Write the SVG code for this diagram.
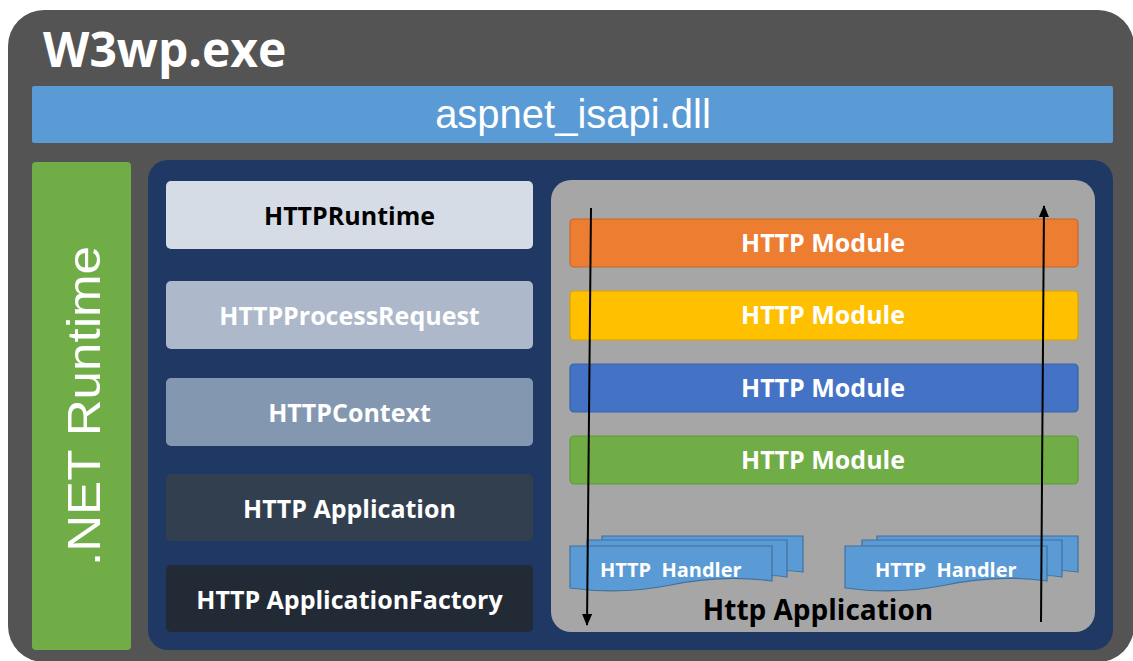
<svg xmlns="http://www.w3.org/2000/svg" width="1133" height="661" viewBox="0 0 1133 661">
  <defs>
    <style>
      .bold { font-family: "Open Sans", "Noto Sans", "Liberation Sans", sans-serif; font-weight: 700; }
      .reg { font-family: "Liberation Sans", "Open Sans", sans-serif; font-weight: 400; }
      .w { fill: #ffffff; }
      .k { fill: #000000; }
      .lbox { stroke: none; }
      .mod { stroke-width: 1.2; }
      .doc { fill: #5b9bd5; stroke: #41719c; stroke-width: 1.2; }
      .conn { stroke: #000000; stroke-width: 2; fill: none; }
    </style>
    <marker id="ah" viewBox="0 0 12 10" refX="11" refY="5" markerWidth="12" markerHeight="10" markerUnits="userSpaceOnUse" orient="auto">
      <path d="M0,0 L12,5 L0,10 Z" fill="#000000"/>
    </marker>
    <g id="handler">
      <path class="doc" d="M602,536 H803 V572 Q780,569 760,572 L760,572 H602 Z"/>
      <path class="doc" d="M587,540 H787 V577 Q770,574 750,577 H587 Z"/>
      <path class="doc" d="M570,546 H772 V581 Q722,574 671,585 Q620,595 570,588 Z"/>
    </g>
  </defs>

  <g id="w3wp">
    <rect x="8" y="10" width="1126" height="652" rx="36" ry="36" fill="#545454"/>
    <text class="bold w" x="43" y="67" font-size="48">W3wp.exe</text>
  </g>

  <g id="aspnet_isapi">
    <rect x="32" y="86" width="1081" height="57" rx="2" fill="#5b9bd5"/>
    <text class="reg w" x="573" y="128" font-size="40" text-anchor="middle">aspnet_isapi.dll</text>
  </g>

  <g id="netruntime">
    <rect x="32" y="162" width="99" height="488" rx="4" fill="#70ad47"/>
    <text class="reg w" transform="translate(100,406) rotate(-90)" x="0" y="0" font-size="47" text-anchor="middle" textLength="320" lengthAdjust="spacingAndGlyphs">.NET Runtime</text>
  </g>

  <g id="runtime-container">
    <rect x="148" y="160" width="965" height="490" rx="20" fill="#203864"/>
  </g>

  <g id="httpruntime">
    <rect class="lbox" x="166" y="181" width="367" height="68" rx="5" fill="#d6dce5"/>
    <text class="bold k" x="349.5" y="225" font-size="25" text-anchor="middle">HTTPRuntime</text>
  </g>
  <g id="httpprocessrequest">
    <rect class="lbox" x="166" y="281" width="367" height="68" rx="5" fill="#adb9ca"/>
    <text class="bold w" x="349.5" y="325" font-size="25" text-anchor="middle">HTTPProcessRequest</text>
  </g>
  <g id="httpcontext">
    <rect class="lbox" x="166" y="378" width="367" height="68" rx="5" fill="#8497b0"/>
    <text class="bold w" x="349.5" y="422" font-size="25" text-anchor="middle">HTTPContext</text>
  </g>
  <g id="httpapplication">
    <rect class="lbox" x="166" y="474" width="367" height="67" rx="5" fill="#323f4f"/>
    <text class="bold w" x="349.5" y="518" font-size="25" text-anchor="middle">HTTP Application</text>
  </g>
  <g id="httpapplicationfactory">
    <rect class="lbox" x="166" y="565" width="367" height="67" rx="5" fill="#222a35"/>
    <text class="bold w" x="349.5" y="609" font-size="25" text-anchor="middle">HTTP ApplicationFactory</text>
  </g>

  <g id="http-application-box">
    <rect x="551" y="180" width="544" height="452" rx="20" fill="#a6a6a6"/>
    <text class="bold k" x="818" y="620" font-size="28" text-anchor="middle">Http Application</text>
  </g>

  <g id="module1">
    <rect class="mod" x="570" y="219" width="508" height="48" rx="4" fill="#ed7d31" stroke="#c4672a"/>
    <text class="bold w" x="823" y="252" font-size="25" text-anchor="middle">HTTP Module</text>
  </g>
  <g id="module2">
    <rect class="mod" x="570" y="291" width="508" height="49" rx="4" fill="#ffc000" stroke="#d6a200"/>
    <text class="bold w" x="823" y="324" font-size="25" text-anchor="middle">HTTP Module</text>
  </g>
  <g id="module3">
    <rect class="mod" x="570" y="364" width="508" height="48" rx="4" fill="#4472c4" stroke="#3a62a8"/>
    <text class="bold w" x="823" y="397" font-size="25" text-anchor="middle">HTTP Module</text>
  </g>
  <g id="module4">
    <rect class="mod" x="570" y="436" width="508" height="48" rx="4" fill="#70ad47" stroke="#5f9a3b"/>
    <text class="bold w" x="823" y="469" font-size="25" text-anchor="middle">HTTP Module</text>
  </g>

  <g id="handler1">
    <use href="#handler"/>
    <text class="bold w" x="600" y="577" font-size="20" xml:space="preserve">HTTP  Handler</text>
  </g>
  <g id="handler2">
    <use href="#handler" transform="translate(275,0)"/>
    <text class="bold w" x="875" y="577" font-size="20" xml:space="preserve">HTTP  Handler</text>
  </g>

  <g id="connectors">
    <line class="conn" x1="591" y1="208" x2="587" y2="625" marker-end="url(#ah)"/>
    <line class="conn" x1="1041" y1="622" x2="1044" y2="206" marker-end="url(#ah)"/>
  </g>
</svg>
